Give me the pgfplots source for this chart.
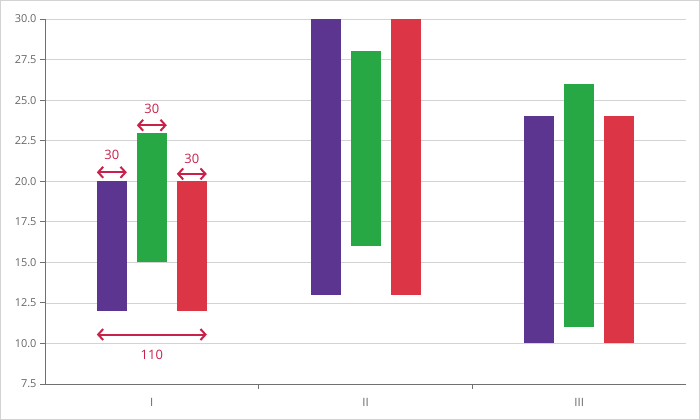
\documentclass[border=0pt]{standalone}
\usepackage{pgfplots}
\pgfplotsset{compat=1.18}
\usepackage{pgfplotstable}
\usepackage{fontspec}
\setmainfont{Open Sans}
\usetikzlibrary{arrows.meta}
\definecolor{cpurple}{HTML}{5C3590}
\definecolor{cgreen}{HTML}{28A745}
\definecolor{cred}{HTML}{DC3545}
\definecolor{cann}{HTML}{C8214A}
\definecolor{cgrid}{HTML}{D3D3D3}
\definecolor{caxis}{HTML}{707070}
\definecolor{ctext}{HTML}{666666}

\pgfplotstableread{
cat lo hi
0 12 20
1 13 30
2 10 24
}\purpledata
\pgfplotstableread{
cat lo hi
0 15 23
1 16 28
2 11 26
}\greendata
\pgfplotstableread{
cat lo hi
0 12 20
1 13 30
2 10 24
}\reddata

\begin{document}
\begin{tikzpicture}
\useasboundingbox (0,0) rectangle (700bp,420bp);
\draw[cgrid, line width=0.8bp] (0.4bp,0.4bp) rectangle (699.6bp,419.6bp);
\begin{axis}[
  at={(45bp,36bp)}, anchor=south west,
  scale only axis, width=641bp, height=365bp,
  xmin=-0.5, xmax=2.5, ymin=7.5, ymax=30,
  axis lines*=left,
  axis line style={caxis, line width=0.8bp, -},
  ytick={7.5,10,12.5,15,17.5,20,22.5,25,27.5,30},
  ymajorgrids,
  grid style={cgrid, line width=0.7bp},
  tick style={caxis, line width=0.8bp},
  tick align=outside,
  major tick length=5bp,
  yticklabel style={/pgf/number format/.cd, fixed, fixed zerofill, precision=1, assume math mode=true},
  ticklabel style={font=\fontsize{11}{13}\selectfont, text=ctext},
  xtick={0.5,1.5},
  xticklabels={},
  extra x ticks={0,1,2},
  extra x tick labels={I,II,III},
  extra x tick style={major tick length=0pt, xticklabel style={yshift=-11bp, font=\fontsize{11.5}{13}\selectfont}},
]
\addplot[draw=none, mark=none, forget plot,
  error bars/.cd, y dir=plus, y explicit, error mark=none,
  error bar style={line width=30bp, draw=cpurple}]
  table[x expr=\thisrow{cat}-0.18721, y=lo, y error expr=\thisrow{hi}-\thisrow{lo}] \purpledata;
\addplot[draw=none, mark=none, forget plot,
  error bars/.cd, y dir=plus, y explicit, error mark=none,
  error bar style={line width=30bp, draw=cgreen}]
  table[x expr=\thisrow{cat}, y=lo, y error expr=\thisrow{hi}-\thisrow{lo}] \greendata;
\addplot[draw=none, mark=none, forget plot,
  error bars/.cd, y dir=plus, y explicit, error mark=none,
  error bar style={line width=30bp, draw=cred}]
  table[x expr=\thisrow{cat}+0.18721, y=lo, y error expr=\thisrow{hi}-\thisrow{lo}] \reddata;

\tikzset{ann/.style={draw=cann, line width=2bp, {Straight Barb[length=5bp,width=11bp,line width=2bp]}-{Straight Barb[length=5bp,width=11bp,line width=2bp]}},
  annt/.style={text=cann, font=\fontsize{13}{15}\selectfont}}
\draw[ann] (axis cs:-0.2574,20.55) -- (axis cs:-0.1170,20.55);
\node[annt] at (axis cs:-0.1872,21.6) {30};
\draw[ann] (axis cs:-0.0702,23.45) -- (axis cs:0.0702,23.45);
\node[annt] at (axis cs:0,24.45) {30};
\draw[ann] (axis cs:0.1170,20.45) -- (axis cs:0.2574,20.45);
\node[annt] at (axis cs:0.1872,21.35) {30};
\draw[ann] (axis cs:-0.2574,10.55) -- (axis cs:0.2574,10.55);
\node[annt] at (axis cs:0,9.3) {110};
\end{axis}
\end{tikzpicture}
\end{document}
